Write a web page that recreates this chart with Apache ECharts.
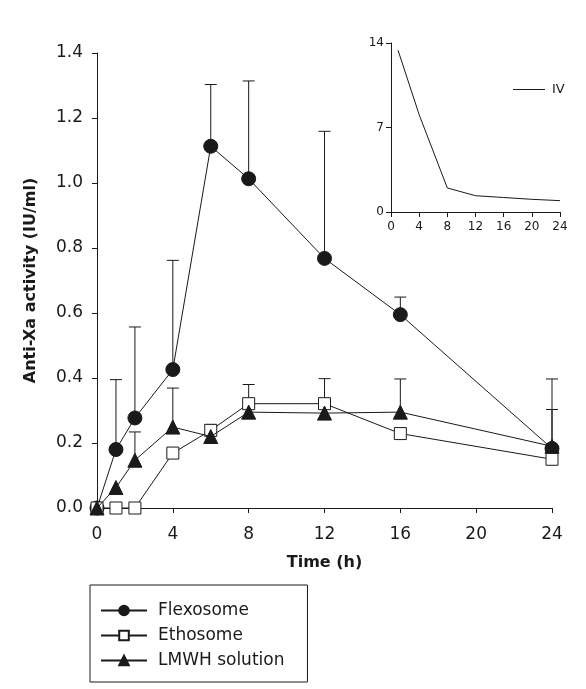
<!DOCTYPE html>
<html>
<head>
<meta charset="utf-8">
<script src="https://cdn.jsdelivr.net/npm/echarts@6/dist/echarts.min.js"></script>
<style>html,body{margin:0;padding:0;background:#fff}#c{width:586px;height:689px}</style>
</head>
<body>
<div id="c"></div>
<script>
// ---- data ----
const times = [0, 1, 2, 4, 6, 8, 12, 16, 24];
const flexosome = [0, 0.18, 0.277, 0.426, 1.113, 1.013, 0.768, 0.595, 0.183];
const flexosomeSD = [0, 0.215, 0.28, 0.336, 0.19, 0.301, 0.391, 0.054, 0.214];
const ethosome = [0, 0, 0, 0.169, 0.239, 0.321, 0.321, 0.229, 0.15];
const ethosomeSD = [0, 0, 0, 0, 0.018, 0.059, 0.077, 0, 0];
const lmwh = [0, 0.063, 0.147, 0.249, 0.22, 0.295, 0.292, 0.295, 0.19];
const lmwhSD = [0, 0, 0.087, 0.12, 0, 0, 0, 0.102, 0.113];
const ivTimes = [1, 4, 8, 12, 16, 20, 24];
const ivValues = [13.4, 8.06, 1.99, 1.35, 1.2, 1.05, 0.94];
const seriesNames = ['Flexosome', 'Ethosome', 'LMWH solution'];

const FONT = 'DejaVu Sans';
const INK = '#1a1a1a';

function pairs(xs, ys) { return xs.map((x, i) => [x, ys[i]]); }
function errData(xs, ys, sd) {
  return xs.map((x, i) => [x, ys[i], sd[i]]).filter(d => d[2] > 0);
}
function errRender(params, api) {
  const x = api.value(0), y = api.value(1), e = api.value(2);
  const p0 = api.coord([x, y]);
  const p1 = api.coord([x, y + e]);
  const half = 6;
  const st = { stroke: INK, lineWidth: 1 };
  return {
    type: 'group',
    children: [
      { type: 'line', shape: { x1: p0[0], y1: p0[1], x2: p1[0], y2: p1[1] }, style: st },
      { type: 'line', shape: { x1: p1[0] - half, y1: p1[1], x2: p1[0] + half, y2: p1[1] }, style: st }
    ]
  };
}

const axisCommon = {
  axisLine: { show: true, lineStyle: { color: INK, width: 1 } },
  axisTick: { show: true, inside: false, length: 5, lineStyle: { color: INK } },
  splitLine: { show: false }
};

const chart = echarts.init(document.getElementById('c'), null, { renderer: 'canvas' });
chart.setOption({
  animation: false,
  backgroundColor: '#fff',
  grid: [
    { left: 97, right: 34, top: 53, bottom: 181 },
    { left: 391, right: 26, top: 43, bottom: 477 }
  ],
  legend: [
    {
      data: seriesNames,
      orient: 'vertical',
      left: 90, top: 585,
      padding: [17, 23, 13, 10],
      itemGap: 8,
      itemWidth: 46, itemHeight: 12,
      borderColor: INK, borderWidth: 1,
      textStyle: { fontFamily: FONT, fontSize: 17, color: INK, padding: [0, 0, 0, 6] }
    },
    {
      data: [{ name: 'IV', icon: 'rect' }],
      left: 508, top: 78,
      itemWidth: 32, itemHeight: 1,
      textStyle: { fontFamily: FONT, fontSize: 13, color: INK, padding: [0, 0, 0, 2] }
    }
  ],
  xAxis: [
    Object.assign({
      type: 'value', gridIndex: 0, min: 0, max: 24, interval: 4,
      name: 'Time (h)', nameLocation: 'middle', nameGap: 47,
      nameTextStyle: { fontFamily: FONT, fontSize: 16, fontWeight: 'bold', color: INK },
      axisLabel: { fontFamily: FONT, fontSize: 17, color: INK, margin: 18 }
    }, axisCommon),
    Object.assign({
      type: 'value', gridIndex: 1, min: 0, max: 24, interval: 4,
      axisLabel: { fontFamily: FONT, fontSize: 12, color: INK, margin: 9 }
    }, axisCommon)
  ],
  yAxis: [
    Object.assign({
      type: 'value', gridIndex: 0, min: 0, max: 1.4, interval: 0.2,
      name: 'Anti-Xa activity (IU/ml)', nameLocation: 'middle', nameGap: 58,
      nameTextStyle: { fontFamily: FONT, fontSize: 16, fontWeight: 'bold', color: INK },
      axisLabel: { fontFamily: FONT, fontSize: 17, color: INK, margin: 14, formatter: v => v.toFixed(1) }
    }, axisCommon),
    Object.assign({
      type: 'value', gridIndex: 1, min: 0, max: 14, interval: 7,
      axisLabel: { fontFamily: FONT, fontSize: 12, color: INK, margin: 7 }
    }, axisCommon)
  ],
  series: [
    { type: 'custom', xAxisIndex: 0, yAxisIndex: 0, renderItem: errRender, data: errData(times, flexosome, flexosomeSD), z: 1, silent: true },
    { type: 'custom', xAxisIndex: 0, yAxisIndex: 0, renderItem: errRender, data: errData(times, ethosome, ethosomeSD), z: 1, silent: true },
    { type: 'custom', xAxisIndex: 0, yAxisIndex: 0, renderItem: errRender, data: errData(times, lmwh, lmwhSD), z: 1, silent: true },
    {
      name: seriesNames[0], type: 'line', xAxisIndex: 0, yAxisIndex: 0,
      data: pairs(times, flexosome), symbol: 'circle', symbolSize: 14, z: 3,
      lineStyle: { color: INK, width: 1 }, itemStyle: { color: INK, borderColor: INK, borderWidth: 1 }
    },
    {
      name: seriesNames[1], type: 'line', xAxisIndex: 0, yAxisIndex: 0,
      data: pairs(times, ethosome), symbol: 'rect', symbolSize: 12, z: 4,
      lineStyle: { color: INK, width: 1 }, itemStyle: { color: '#fff', borderColor: INK, borderWidth: 1 }
    },
    {
      name: seriesNames[2], type: 'line', xAxisIndex: 0, yAxisIndex: 0,
      data: pairs(times, lmwh), symbol: 'triangle', symbolSize: 14, z: 5,
      lineStyle: { color: INK, width: 1 }, itemStyle: { color: INK, borderColor: INK, borderWidth: 1 }
    },
    {
      name: 'IV', type: 'line', xAxisIndex: 1, yAxisIndex: 1,
      data: pairs(ivTimes, ivValues), symbol: 'none', showSymbol: false,
      lineStyle: { color: INK, width: 1 }, itemStyle: { color: INK }
    }
  ]
});
</script>
</body>
</html>
